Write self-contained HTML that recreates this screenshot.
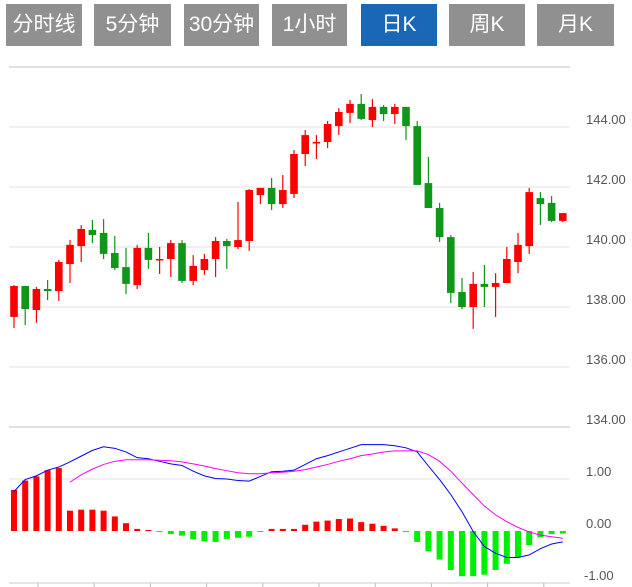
<!DOCTYPE html>
<html><head><meta charset="utf-8"><style>
body{margin:0;width:632px;height:587px;background:#fff;overflow:hidden;font-family:"Liberation Sans","Noto Sans CJK SC",sans-serif}
.tab{position:absolute;top:4px;height:42px;background:#909090;color:#fff;font-size:21px;line-height:42px;text-align:center}
.tab.on{background:#1a67b5}
svg{position:absolute;left:0;top:0}
</style></head><body>
<div class="tab" style="left:6px;width:76px">分时线</div>
<div class="tab" style="left:94px;width:77px">5分钟</div>
<div class="tab" style="left:184px;width:75px">30分钟</div>
<div class="tab" style="left:272px;width:75px">1小时</div>
<div class="tab on" style="left:361px;width:76px">日K</div>
<div class="tab" style="left:449px;width:76px">周K</div>
<div class="tab" style="left:537px;width:77px">月K</div>
<svg id="chart" width="632" height="587"></svg>
<script>
const opens=[137.67,138.7,137.9,138.6,138.53,139.43,140.03,140.57,140.47,139.8,139.33,138.73,139.97,139.57,139.6,140.13,138.87,139.23,139.6,140.2,140,140.2,141.73,141.97,141.43,141.77,143.1,143.47,143.5,144.03,144.47,144.77,144.23,144.67,144.43,144.67,144.03,142.13,141.3,140.33,138.5,138,138.77,138.67,138.8,139.5,140.03,141.63,141.47,140.87];
const closes=[138.7,137.93,138.6,138.53,139.5,140.07,140.6,140.4,139.77,139.3,138.77,139.97,139.57,139.6,140.13,138.87,139.37,139.6,140.2,140.03,140.23,141.9,141.97,141.43,141.9,143.1,143.73,143.5,144.1,144.5,144.77,144.27,144.67,144.43,144.67,144.03,142.07,141.3,140.33,138.47,138,138.77,138.67,138.8,139.6,140.07,141.83,141.43,140.87,141.13];
const highs=[138.73,138.7,138.67,138.9,139.57,140.23,140.73,140.9,140.93,140.37,139.97,140.07,140.47,140,140.23,140.23,139.73,139.77,140.33,140.27,141.5,141.93,141.97,142.3,142.4,143.23,143.9,143.73,144.2,144.63,144.9,145.1,144.93,144.73,144.77,144.67,144.2,143,141.47,140.4,138.97,139.17,139.4,139.13,140,140.47,141.97,141.83,141.7,141.13];
const lows=[137.3,137.4,137.47,138.23,138.2,138.8,139.5,140.13,139.6,139.23,138.43,138.6,139.27,139.1,139,138.8,138.73,139.07,139,139.27,139.93,139.87,141.43,141.23,141.3,141.63,142.7,142.93,143.3,143.73,144.13,144.23,144,144.2,144.1,143.57,142.07,141.3,140.17,138.13,137.93,137.27,138,137.67,138.8,139.13,139.77,140.73,140.83,140.83];
const macdHist=[0.79,0.97,1.05,1.17,1.21,0.39,0.41,0.41,0.39,0.28,0.15,0.04,0.02,-0.02,-0.06,-0.09,-0.16,-0.2,-0.21,-0.15,-0.13,-0.11,-0.02,0.04,0.04,0.04,0.12,0.18,0.2,0.23,0.24,0.17,0.14,0.1,0.05,-0.02,-0.21,-0.39,-0.55,-0.75,-0.87,-0.87,-0.84,-0.75,-0.63,-0.5,-0.27,-0.12,-0.06,-0.05];
const dif=[0.76,0.99,1.06,1.17,1.23,1.33,1.44,1.55,1.62,1.59,1.52,1.41,1.39,1.34,1.29,1.26,1.15,1.06,1.01,1.0,0.97,0.96,1.05,1.14,1.15,1.17,1.28,1.39,1.45,1.52,1.59,1.66,1.66,1.66,1.64,1.6,1.52,1.25,0.99,0.7,0.37,-0.01,-0.3,-0.43,-0.51,-0.51,-0.46,-0.34,-0.25,-0.21];
const dea=[null,null,null,null,null,0.94,1.08,1.19,1.28,1.34,1.37,1.37,1.37,1.36,1.35,1.33,1.29,1.25,1.2,1.16,1.12,1.1,1.1,1.12,1.13,1.15,1.18,1.23,1.28,1.34,1.39,1.45,1.48,1.52,1.54,1.54,1.54,1.47,1.34,1.15,0.92,0.7,0.48,0.31,0.18,0.07,-0.02,-0.08,-0.11,-0.14];
const priceTicks=[144,142,140,138,136,134];
const macdTicks=[1,0,-1];

const NS='http://www.w3.org/2000/svg';
const svg=document.getElementById('chart');
function el(t,a,p){const e=document.createElementNS(NS,t);for(const k in a)e.setAttribute(k,a[k]);(p||svg).appendChild(e);return e;}
const xOf=i=>14+i*11.2;
const yP=v=>127-(v-144)*30;
const yM=v=>531-v*52;
// grid
[146,144,142,140,138,136,134].forEach(v=>{const g=el('line',{x1:9,x2:570,y1:yP(v),y2:yP(v),stroke:'#e0e0e0','stroke-width':v==146||v==134?2:1});

});
priceTicks.forEach(v=>{const t=el('text',{x:586,y:yP(v)-3,'font-size':13,fill:'#555'});t.textContent=v.toFixed(2);

});
const mg=el('line',{x1:9,x2:570,y1:yM(1),y2:yM(1),stroke:'#e0e0e0'});


macdTicks.forEach(v=>{const t=el('text',{x:v<0?584:586,y:yM(v)-3,'font-size':13,fill:'#555'});t.textContent=v.toFixed(2);

});
const ax=el('line',{x1:9,x2:570,y1:583,y2:583,stroke:'#ccc'});


for(let k=0;k<10;k++){const tk=el('line',{x1:38+k*56.2,x2:38+k*56.2,y1:583,y2:587,stroke:'#bbb'});

}
// candles
opens.forEach((o,i)=>{const c=closes[i];const up=c>=o;const col=up?'#ff0000':'#109618';const x=xOf(i);
const g=el('g',{});


el('line',{x1:x,x2:x,y1:yP(highs[i]),y2:yP(lows[i]),stroke:col,'stroke-width':1.2},g);
const top=yP(Math.max(o,c)),bot=yP(Math.min(o,c));
el('rect',{x:x-3.8,y:top,width:7.6,height:Math.max(bot-top,1.5),fill:col},g);});
// macd hist
macdHist.forEach((v,i)=>{const y0=yM(0),y1=yM(v);const r=el('rect',{x:xOf(i)-3,y:Math.min(y0,y1),width:6,height:Math.max(Math.abs(y1-y0),1),fill:v>=0?'#ff0000':'#00ee00'});

});
function line(arr,col,name){let d='';arr.forEach((v,i)=>{if(v==null)return;d+=(d?'L':'M')+xOf(i)+','+yM(v);});
const p=el('path',{d:d,fill:'none',stroke:col,'stroke-width':1});

}
line(dif,'#0000ff','dif-line');
line(dea,'#ff00ff','dea-line');
</script>
</body></html>
